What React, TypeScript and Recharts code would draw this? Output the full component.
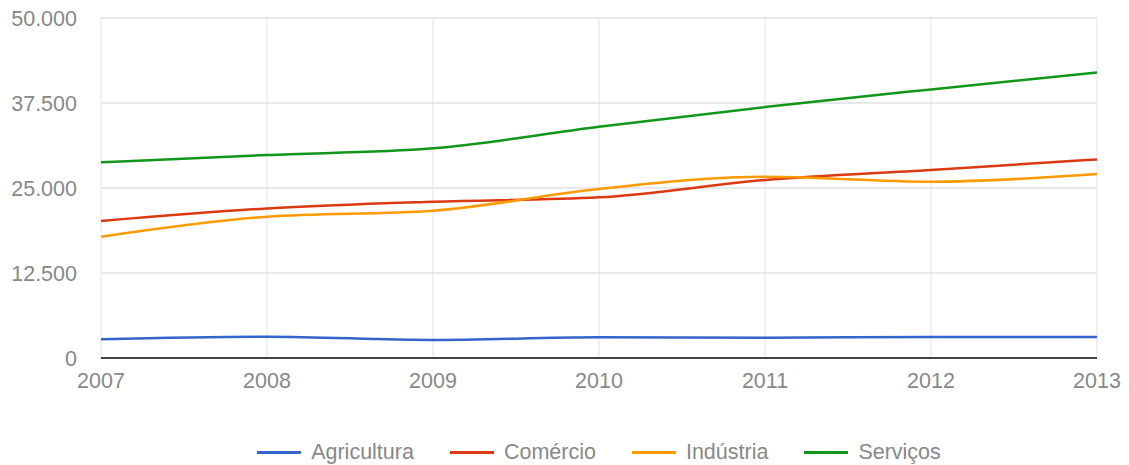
import { LineChart, Line, XAxis, YAxis, CartesianGrid, Legend } from "recharts";

const years = ["2007", "2008", "2009", "2010", "2011", "2012", "2013"];
const agricultura = [2750, 3130, 2650, 3040, 2990, 3090, 3090];
const comercio = [20150, 22000, 22990, 23630, 26180, 27650, 29200];
const industria = [17840, 20780, 21660, 24850, 26660, 25930, 27060];
const servicos = [28780, 29850, 30830, 34000, 36900, 39500, 42000];
const yTicks = [0, 12500, 25000, 37500, 50000];

const series = [
  { key: "Agricultura", values: agricultura, color: "#3366cc" },
  { key: "Comércio", values: comercio, color: "#dc3912" },
  { key: "Indústria", values: industria, color: "#ff9900" },
  { key: "Serviços", values: servicos, color: "#109618" },
];

const data = years.map((y, i) => {
  const row: Record<string, string | number> = { year: y };
  series.forEach(s => { row[s.key] = s.values[i]; });
  return row;
});

const fmt = (v: number) => String(v).replace(/\B(?=(\d{3})+(?!\d))/g, ".");

const FONT = "'Liberation Sans', Arial, sans-serif";

function LegendBox(props: any) {
  const items = props.payload || [];
  return (
    <div style={{ display: "flex", justifyContent: "center", alignItems: "center", height: 24, fontFamily: FONT, fontSize: 21.5, color: "#888" }}>
      {items.map((it: any, i: number) => (
        <div key={it.value} style={{ display: "flex", alignItems: "center", marginLeft: i === 0 ? 0 : 36 }}>
          <span style={{ display: "inline-block", width: 44, height: 3, background: it.color, marginRight: 10 }} />
          <span>{it.value}</span>
        </div>
      ))}
    </div>
  );
}

export default function App() {
  return (
    <div style={{ position: "absolute", left: 0, top: 0, background: "#fff" }}>
      <LineChart width={1129} height={465} data={data} margin={{ top: 18, right: 32, left: 0, bottom: 77 }}>
        <CartesianGrid horizontal={false} stroke="#ececec" strokeWidth={1.5} />
        <CartesianGrid vertical={false} stroke="#e0e0e0" strokeWidth={1.5} />
        <XAxis dataKey="year" height={30} tickLine={false} tickSize={0} tickMargin={15} axisLine={{ stroke: "#444", strokeWidth: 2 }}
          tick={{ fill: "#888", fontSize: 21.5, fontFamily: FONT }} interval={0} />
        <YAxis width={101} domain={[0, 50000]} ticks={yTicks} interval={0} tickLine={false} axisLine={false} tickSize={0} tickMargin={24}
          tickFormatter={fmt} tick={{ fill: "#888", fontSize: 21.5, fontFamily: FONT }} />
        <Legend layout="horizontal" verticalAlign="middle" align="center" content={<LegendBox />}
          wrapperStyle={{ top: 440, left: 101, width: 996 }} />
        {series.map(s => (
          <Line key={s.key} type="monotone" dataKey={s.key} stroke={s.color} strokeWidth={2.5} dot={false} activeDot={false} isAnimationActive={false} />
        ))}
      </LineChart>
    </div>
  );
}
